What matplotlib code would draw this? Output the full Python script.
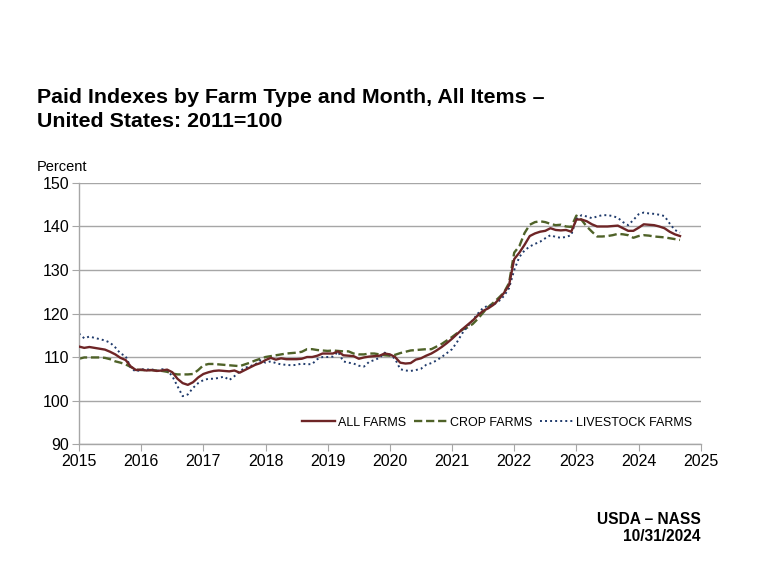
import numpy as np
import matplotlib
matplotlib.use('Agg')
import matplotlib.pyplot as plt

plt.rcParams['font.family'] = ['Liberation Sans', 'DejaVu Sans']

#----data: monthly paid indexes, Jan 2015 - Sep 2024----
start_year = 2015
all_farms = [
    112.4, 112.1, 112.3, 112.1, 111.9, 111.7, 111.2, 110.6, 109.8, 109.3, 107.8, 107.0,
    107.1, 106.9, 107.0, 106.8, 106.9, 107.1, 106.5, 105.0, 104.0, 103.6, 104.2, 105.3,
    106.1, 106.5, 106.8, 106.9, 106.8, 106.7, 106.9, 106.4, 107.0, 107.6, 108.2, 108.6,
    109.3, 109.8, 109.4, 109.7, 109.5, 109.5, 109.5, 109.6, 110.0, 110.0, 110.3, 110.8,
    110.8, 110.8, 111.3, 110.4, 110.3, 110.2, 109.6, 109.9, 110.1, 110.2, 110.3, 110.8,
    110.6, 110.0, 108.7, 108.5, 108.6, 109.4, 109.7, 110.3, 110.8, 111.5, 112.3, 113.2,
    114.2, 115.3, 116.4, 117.4, 118.4, 119.6, 120.6, 121.2, 122.0, 123.2, 124.7, 126.5,
    132.5, 134.0, 135.8, 137.8, 138.4, 138.8, 139.0, 139.6, 139.2, 139.1, 139.2, 138.8,
    141.6, 141.6, 141.2, 140.5, 140.0, 140.0, 140.0, 140.1, 140.2, 139.6, 139.0, 139.0,
    139.7, 140.5, 140.4, 140.3, 140.0, 139.6, 138.8, 138.2, 137.8,
]
crop_farms = [
    109.6, 109.9, 109.9, 109.9, 109.9, 109.8, 109.5, 109.0, 108.7, 108.3, 107.7, 107.1,
    107.0, 107.0, 107.0, 106.9, 106.8, 106.6, 106.2, 106.0, 106.0, 106.0, 106.1, 107.0,
    108.1, 108.4, 108.4, 108.3, 108.2, 108.1, 108.0, 107.9, 108.3, 108.7, 109.2, 109.6,
    110.0, 110.2, 110.4, 110.6, 110.8, 110.9, 111.0, 111.2, 111.8, 111.8, 111.6, 111.5,
    111.4, 111.5, 111.4, 111.3, 111.3, 110.8, 110.6, 110.6, 110.8, 110.8, 110.6, 110.4,
    110.3, 110.5, 110.9, 111.2, 111.5, 111.6, 111.7, 111.8, 111.8, 112.4, 113.0, 113.8,
    114.6, 115.5, 116.3, 116.8, 117.6, 118.8, 120.2, 121.5, 122.5, 123.6, 124.8, 127.0,
    134.0, 135.5, 138.5, 140.4, 141.0, 141.2, 141.0, 140.6, 140.3, 140.4, 140.0, 139.9,
    142.5, 141.5, 140.0, 138.8, 137.7, 137.7, 137.8, 138.0, 138.3, 138.2, 138.0, 137.4,
    137.8, 138.0, 137.9, 137.7, 137.6, 137.5, 137.3, 137.1, 136.9,
]
livestock_farms = [
    115.4, 114.3, 114.7, 114.4, 114.1, 113.8, 113.3, 112.2, 110.8, 110.2, 107.5, 106.6,
    107.2, 107.1, 107.2, 106.8, 107.2, 107.0, 105.6, 103.3, 101.0, 101.4, 102.9, 104.0,
    104.7, 105.0, 105.0, 105.2, 105.5, 104.7, 105.6, 106.7, 107.5, 107.9, 108.3, 109.2,
    108.7, 109.0, 108.6, 108.3, 108.2, 108.1, 108.2, 108.5, 108.3, 108.4, 109.5, 110.0,
    110.0, 110.1, 111.2, 109.0, 108.7, 108.5, 108.0, 107.8, 108.9, 109.3, 109.8, 111.0,
    110.5, 109.6, 107.2, 106.9, 106.8, 107.0, 107.3, 108.2, 108.6, 109.2, 110.0, 110.9,
    111.8, 113.5, 115.5, 117.0, 118.5, 120.0, 121.3, 121.8, 122.0, 122.8, 124.0, 125.8,
    130.0, 133.0, 134.5, 135.4, 136.0, 136.5, 137.3, 138.0, 137.6, 137.4, 137.6, 138.0,
    141.7, 142.6, 142.3, 141.9, 142.3, 142.6, 142.6, 142.4, 142.0, 141.0, 140.3, 141.5,
    142.8, 143.2, 143.0, 142.9, 142.7, 142.4, 140.7, 139.2, 138.6,
]
year_ticks = list(range(2015, 2026))
y_ticks = [90, 100, 110, 120, 130, 140, 150]

x = start_year + np.arange(len(all_farms)) / 12.0

#----initiate plot----
fig = plt.figure(figsize=(7.6, 5.7), dpi=100, facecolor='white')
ax = fig.add_axes([0.104, 0.221, 0.818, 0.458])

grid_color = '#A6A6A6'
ax.plot(x, all_farms, color='#6E2526', lw=1.7, label='ALL FARMS', zorder=3)
ax.plot(x, crop_farms, color='#4F6228', lw=1.7, ls=(0, (3.5, 1.6)),
        label='CROP FARMS', zorder=2)
ax.plot(x, livestock_farms, color='#1F3A6B', lw=1.4, ls=(0, (1, 1.6)),
        label='LIVESTOCK FARMS', zorder=2)

#----axes customization----
ax.set_xlim(2015, 2025)
ax.set_ylim(90, 150)
ax.set_xticks(year_ticks)
ax.set_yticks(y_ticks)
ax.yaxis.grid(True, color=grid_color, lw=1.0)
ax.set_axisbelow(True)
for s in ['top', 'right']:
    ax.spines[s].set_visible(False)
for s in ['left', 'bottom']:
    ax.spines[s].set_color(grid_color)
    ax.spines[s].set_linewidth(1.0)
ax.tick_params(axis='both', direction='out', length=5, color=grid_color,
               labelsize=11.5, labelcolor='black', pad=2)

ax.legend(loc='lower right', bbox_to_anchor=(1.005, 0.015), ncol=3, frameon=False,
          fontsize=9, handlelength=2.6, handletextpad=0.3, columnspacing=0.6)

#----text----
fig.text(0.049, 0.846, 'Paid Indexes by Farm Type and Month, All Items \u2013\n'
         'United States: 2011=100', fontsize=15.4, fontweight='bold',
         va='top', ha='left', linespacing=1.37)
fig.text(0.049, 0.695, 'Percent', fontsize=10.5, va='bottom', ha='left')
fig.text(0.922, 0.045, 'USDA \u2013 NASS\n10/31/2024', fontsize=11.2,
         fontweight='bold', ha='right', va='bottom', linespacing=1.2)

fig.savefig('out.png', dpi=100, facecolor='white')
